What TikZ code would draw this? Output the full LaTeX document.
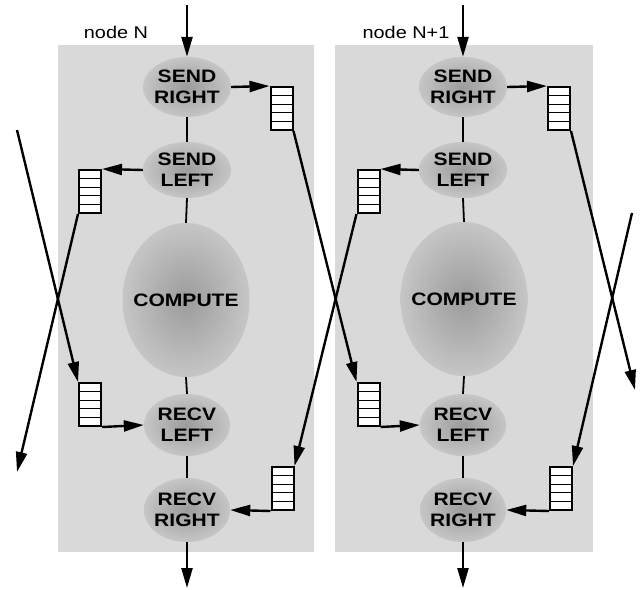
\documentclass[tikz,border=0pt]{standalone}
\usepackage{fontspec}
\setmainfont{Liberation Sans}
\newfontfamily\labfont[FakeStretch=1.17]{Liberation Sans}
\usetikzlibrary{shapes.geometric,arrows.meta}
\newcommand\zw[1]{\makebox[0pt]{#1}}
\tikzset{
  panel/.style={fill=gray!30, draw=none},
  proc/.style={ellipse, inner sep=0pt, inner color=gray!78, outer color=gray!45,
    align=center, font=\labfont\bfseries\fontsize{18}{21}\selectfont},
  queue/.style={draw, line width=2pt, fill=white, minimum width=22pt,
    minimum height=43pt, inner sep=0pt,
    path picture={\foreach \f in {0.2,0.4,0.6,0.8}
      \draw[line width=1.3pt] ([yshift=-\f*43pt]path picture bounding box.north west)
        -- ([yshift=-\f*43pt]path picture bounding box.north east);}},
  arr/.style={line width=2.4pt, -{Triangle[length=20pt,width=11pt]}},
  link/.style={line width=1.8pt},
  lbl/.style={font=\labfont\fontsize{17}{19}\selectfont}
}
\begin{document}
\begin{tikzpicture}[x=1pt,y=-1pt]
\useasboundingbox (0,0) rectangle (641,590);
\fill[white] (0,0) rectangle (641,590);
% panels
\fill[panel] (58,45) rectangle (314,552);
\fill[panel] (335,45) rectangle (593,552);
\node[lbl] (lbl1) at (116,32) {node N};
\node[lbl] (lbl2) at (406,32) {node N+1};
% processes node N
\node[proc, minimum width=88pt, minimum height=60pt] (sr1) at (187,87) {\zw{SEND}\\\zw{RIGHT}};
\node[proc, minimum width=88pt, minimum height=56pt] (sl1) at (187,170) {\zw{SEND}\\\zw{LEFT}};
\node[proc, minimum width=127pt, minimum height=154pt] (cp1) at (186,300) {\zw{COMPUTE}};
\node[proc, minimum width=86pt, minimum height=62pt] (rl1) at (187,425) {\zw{RECV}\\\zw{LEFT}};
\node[proc, minimum width=86pt, minimum height=64pt] (rr1) at (187,510) {\zw{RECV}\\\zw{RIGHT}};
% processes node N+1
\node[proc, minimum width=88pt, minimum height=60pt] (sr2) at (463,87) {\zw{SEND}\\\zw{RIGHT}};
\node[proc, minimum width=88pt, minimum height=56pt] (sl2) at (463,170) {\zw{SEND}\\\zw{LEFT}};
\node[proc, minimum width=127pt, minimum height=154pt] (cp2) at (464,299) {\zw{COMPUTE}};
\node[proc, minimum width=86pt, minimum height=62pt] (rl2) at (463,425) {\zw{RECV}\\\zw{LEFT}};
\node[proc, minimum width=86pt, minimum height=64pt] (rr2) at (463,510) {\zw{RECV}\\\zw{RIGHT}};
% queues
\node[queue] (q1sr) at (281.5,108.5) {};
\node[queue] (q1sl) at (90,191.5) {};
\node[queue] (q1rl) at (90,404.5) {};
\node[queue] (q1rr) at (282.5,488.5) {};
\node[queue] (q2sr) at (559,108.5) {};
\node[queue] (q2sl) at (368.5,191.5) {};
\node[queue] (q2rl) at (368.5,404.5) {};
\node[queue] (q2rr) at (561,488.5) {};
% free ends
\coordinate (in1) at (187,5);
\coordinate (out1) at (187,588);
\coordinate (in2) at (463,5);
\coordinate (out2) at (463,588);
\coordinate (lin) at (17,130);
\coordinate (lout) at (17,472);
\coordinate (rout) at (635,390);
\coordinate (rin) at (632,213);
% vertical chains
\foreach \i in {1,2}{
  \draw[arr] (in\i) -- (sr\i.north);
  \draw[link] (sr\i.south) -- (sl\i.north);
  \draw[link] (sl\i.south) -- (cp\i.north);
  \draw[link] (cp\i.south) -- (rl\i.north);
  \draw[link] (rl\i.south) -- (rr\i.north);
  \draw[arr] (rr\i.south) -- (out\i);
  \draw[arr] (sr\i.east) -- (q\i sr.north west);
  \draw[arr] (sl\i.west) -- (q\i sl.north east);
  \draw[arr] (q\i rl.south east) -- (rl\i.west);
  \draw[arr] (q\i rr.south west) -- (rr\i.east);
}
% crossing links
\draw[arr] (lin) -- (q1rl.north west);
\draw[arr] (q1sl.south west) -- (lout);
\draw[arr] (q1sr.south east) -- (q2rl.north west);
\draw[arr] (q2sl.south west) -- (q1rr.north east);
\draw[arr] (q2sr.south east) -- (rout);
\draw[arr] (rin) -- (q2rr.north east);
\end{tikzpicture}
\end{document}
